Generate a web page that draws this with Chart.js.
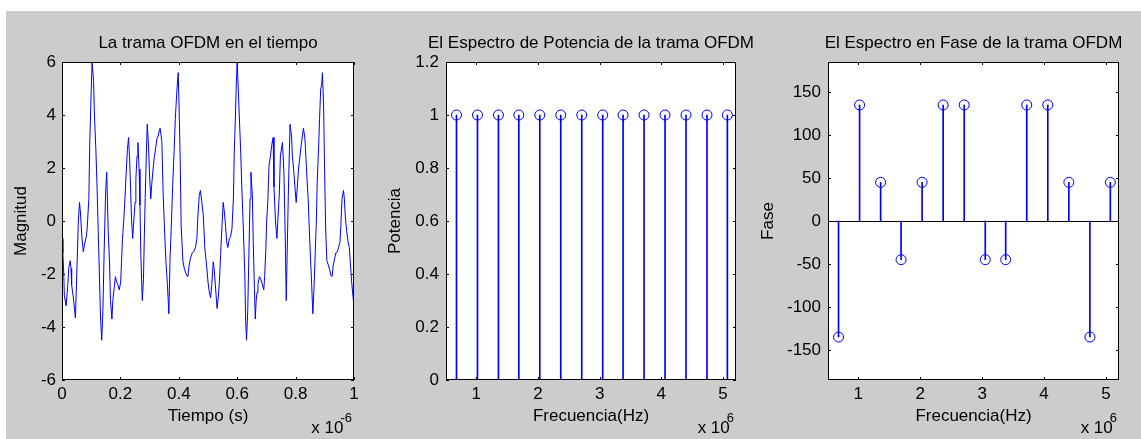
<!DOCTYPE html>
<html>
<head>
<meta charset="utf-8">
<script src="https://cdn.jsdelivr.net/npm/chart.js@4.4.1/dist/chart.umd.min.js"></script>
<style>
html,body{margin:0;padding:0;background:#ffffff;}
body{width:1141px;height:439px;position:relative;overflow:hidden;}
#fig{position:absolute;left:6px;top:11px;width:1135px;height:428px;background:#cccccc;}
canvas{position:absolute;top:11px;}
</style>
</head>
<body>
<div id="fig"></div>
<canvas id="c1" width="370" height="428" style="left:6px"></canvas>
<canvas id="c2" width="384" height="428" style="left:376px"></canvas>
<canvas id="c3" width="381" height="428" style="left:760px"></canvas>
<script>
// ---- Data ----
// Time axis in units of 1e-6 s
const tiempoUs = [
0.000,0.003,0.006,0.008,0.014,0.020,0.023,0.028,0.031,0.033,0.039,0.043,0.046,0.048,0.052,0.056,0.060,0.063,0.068,0.073,
0.077,0.083,0.086,0.092,0.095,0.100,0.103,0.108,0.111,0.116,0.120,0.124,0.128,0.132,0.136,0.140,0.144,0.149,0.153,0.155,
0.158,0.163,0.166,0.171,0.174,0.179,0.183,0.187,0.191,0.196,0.201,0.204,0.207,0.212,0.216,0.220,0.224,0.228,0.232,0.235,
0.238,0.242,0.245,0.250,0.253,0.257,0.260,0.264,0.267,0.270,0.275,0.279,0.282,0.285,0.289,0.292,0.296,0.300,0.304,0.307,
0.312,0.316,0.321,0.325,0.329,0.333,0.336,0.342,0.346,0.351,0.356,0.361,0.366,0.370,0.375,0.379,0.384,0.388,0.393,0.398,
0.401,0.405,0.408,0.414,0.419,0.425,0.431,0.435,0.440,0.446,0.451,0.457,0.462,0.465,0.470,0.474,0.479,0.484,0.489,0.495,
0.500,0.504,0.509,0.513,0.518,0.521,0.526,0.531,0.535,0.539,0.543,0.548,0.552,0.556,0.560,0.564,0.568,0.573,0.577,0.582,
0.587,0.590,0.594,0.597,0.600,0.604,0.607,0.612,0.616,0.621,0.626,0.629,0.632,0.636,0.640,0.644,0.647,0.652,0.655,0.659,
0.662,0.665,0.668,0.671,0.676,0.681,0.685,0.691,0.694,0.698,0.701,0.705,0.709,0.714,0.718,0.723,0.726,0.731,0.736,0.739,
0.744,0.748,0.755,0.760,0.764,0.768,0.771,0.775,0.778,0.781,0.786,0.789,0.794,0.799,0.802,0.807,0.810,0.815,0.819,0.824,
0.827,0.832,0.835,0.839,0.843,0.847,0.851,0.855,0.859,0.863,0.867,0.871,0.874,0.879,0.882,0.886,0.889,0.892,0.896,0.899,
0.903,0.907,0.912,0.917,0.921,0.925,0.929,0.934,0.938,0.943,0.947,0.952,0.955,0.959,0.964,0.967,0.970,0.975,0.980,0.984,
0.988,0.992,0.997,1.000
];
const magnitud = [
-0.65,-1.2,-2.0,-2.8,-3.2,-2.4,-1.8,-1.5,-1.8,-2.4,-2.9,-3.35,-3.66,-2.9,-1.5,0.0,0.7,0.34,-0.6,-1.16,
-0.9,-0.6,-0.3,0.84,2.9,4.9,6.0,5.3,4.0,2.7,1.3,-0.35,-2.0,-3.66,-4.5,-3.4,-1.3,0.96,1.84,1.1,
-0.3,-1.66,-3.0,-3.7,-3.0,-2.5,-2.1,-2.3,-2.4,-2.6,-2.3,-1.5,-0.7,0.1,0.96,1.84,2.7,3.15,2.2,1.2,
0.1,-0.66,-0.16,0.7,1.6,2.46,2.96,1.96,0.6,-1.3,-3.0,-2.2,-0.54,0.9,2.6,3.65,2.9,1.7,0.84,1.34,
1.96,2.4,2.77,3.1,3.2,3.4,3.5,3.0,1.2,-0.3,-1.54,-2.4,-3.5,-1.4,0.0,1.34,2.65,3.84,4.84,5.6,
4.3,2.2,-0.16,-1.5,-1.8,-2.0,-2.1,-1.7,-1.4,-1.2,-1.16,-1.0,-0.66,0.1,0.96,1.15,0.7,0.2,-1.0,-1.66,
-2.3,-2.66,-2.9,-2.4,-1.54,-1.8,-2.54,-3.3,-2.9,-2.3,-1.3,-0.16,0.7,0.34,-0.16,-0.8,-1.0,-0.66,-0.6,-0.3,
0.84,2.6,4.0,5.2,6.0,4.9,4.0,2.6,1.2,-0.3,-2.0,-3.8,-4.5,-3.4,-1.3,0.84,1.84,0.96,-0.8,-2.54,
-3.7,-3.0,-2.7,-2.4,-2.1,-2.2,-2.35,-2.6,-2.1,-1.1,0.0,0.78,2.1,2.46,2.84,3.15,1.28,0.0,-0.66,0.0,
0.96,2.46,2.96,1.84,-0.3,-3.0,-1.3,0.96,2.34,3.65,3.2,2.46,1.84,1.1,0.7,1.46,1.96,2.46,2.84,3.28,
3.5,3.1,2.46,1.6,0.84,-0.3,-1.4,-2.4,-3.5,-2.54,-1.3,0.0,1.46,2.84,3.84,5.0,5.1,5.6,4.3,2.1,
-0.3,-1.5,-1.66,-1.85,-2.05,-2.1,-1.66,-1.4,-1.2,-1.16,-1.0,-0.8,-0.16,0.84,1.15,0.84,0.2,-0.4,-0.8,-1.0,
-1.66,-2.3,-2.9,-3.2
];
// Frequency axis in units of 1e6 Hz
const frecuenciaMHz = [0.68,1.02,1.36,1.69,2.03,2.37,2.71,3.05,3.38,3.72,4.06,4.40,4.74,5.07];
const potencia = [1,1,1,1,1,1,1,1,1,1,1,1,1,1];
const fase = [-135,135,45,-45,45,135,135,-45,-45,135,135,45,-135,45];

const ticksTiempo = [0,0.2,0.4,0.6,0.8,1];
const ticksMagnitud = [-6,-4,-2,0,2,4,6];
const ticksFrecuencia = [1,2,3,4,5];
const ticksPotencia = [0,0.2,0.4,0.6,0.8,1,1.2];
const ticksFase = [-150,-100,-50,0,50,100,150];

// ---- Styling ----
const FONT = "'Liberation Sans', Arial, Helvetica, sans-serif";
Chart.defaults.font.family = FONT;
Chart.defaults.font.size = 17;
Chart.defaults.color = '#000000';
Chart.defaults.animation = false;
const BLUE = '#0000ff';

const matlabAxes = {
  id: 'matlabAxes',
  beforeDraw(chart) {
    const {ctx, chartArea: a} = chart;
    ctx.save();
    ctx.fillStyle = '#ffffff';
    ctx.fillRect(a.left, a.top, a.right - a.left, a.bottom - a.top);
    ctx.restore();
  },
  beforeDatasetsDraw(chart, args, opts) {
    if (!opts.baseline) return;
    const {ctx, chartArea: a, scales} = chart;
    const y = Math.round(scales.y.getPixelForValue(0)) + 0.5;
    ctx.save();
    ctx.strokeStyle = '#000000'; ctx.lineWidth = 1;
    ctx.beginPath(); ctx.moveTo(a.left, y); ctx.lineTo(a.right, y); ctx.stroke();
    ctx.restore();
  },
  afterDatasetsDraw(chart) {
    const {ctx, chartArea: a, scales} = chart;
    const L = 3;
    ctx.save();
    ctx.strokeStyle = '#000000'; ctx.lineWidth = 1;
    ctx.beginPath();
    scales.x.ticks.forEach(t => {
      const x = Math.round(scales.x.getPixelForValue(t.value)) + 0.5;
      ctx.moveTo(x, a.bottom); ctx.lineTo(x, a.bottom - L);
      ctx.moveTo(x, a.top); ctx.lineTo(x, a.top + L);
    });
    scales.y.ticks.forEach(t => {
      const y = Math.round(scales.y.getPixelForValue(t.value)) + 0.5;
      ctx.moveTo(a.left, y); ctx.lineTo(a.left + L, y);
      ctx.moveTo(a.right, y); ctx.lineTo(a.right - L, y);
    });
    ctx.stroke();
    ctx.strokeRect(a.left + 0.5, a.top + 0.5, a.right - a.left - 1, a.bottom - a.top - 1);
    ctx.restore();
  },
  afterDraw(chart, args, opts) {
    const {ctx, chartArea: a} = chart;
    ctx.save();
    ctx.fillStyle = '#000000';
    ctx.textBaseline = 'alphabetic';
    if (opts.title) {
      ctx.textAlign = 'center';
      ctx.font = '17px ' + FONT;
      ctx.fillText(opts.title, (a.left + a.right) / 2, a.top - 14);
    }
    if (opts.exponent) {
      ctx.textAlign = 'right';
      ctx.font = '13px ' + FONT;
      const ex = a.right - 2;
      ctx.fillText(opts.exponent, ex, a.bottom + 42);
      const w = ctx.measureText(opts.exponent).width;
      ctx.font = '17px ' + FONT;
      ctx.fillText('x 10', ex - w + 3, a.bottom + 53);
    }
    ctx.restore();
  }
};
Chart.register(matlabAxes);

function makeOptions(c) {
  return {
    responsive: false,
    animation: false,
    layout: {padding: {left: 0, right: c.right, top: 51, bottom: 0}},
    plugins: {
      legend: {display: false},
      tooltip: {enabled: false},
      title: {display: false},
      matlabAxes: {title: c.title, exponent: c.exponent, baseline: c.baseline}
    },
    scales: {
      x: {
        type: 'linear', min: c.xMin, max: c.xMax, offset: false,
        grid: {display: false, drawTicks: false}, border: {display: false},
        afterBuildTicks: s => { s.ticks = c.xTicks.map(v => ({value: v})); },
        afterFit: s => { s.height = 59; },
        ticks: {padding: 4, maxRotation: 0, autoSkip: false, color: '#000000', font: {size: 17}, callback: v => String(v)},
        title: {display: true, text: c.xTitle, color: '#000000', font: {size: 17, lineHeight: 1}, padding: {top: 0, bottom: 14}}
      },
      y: {
        type: 'linear', min: c.yMin, max: c.yMax,
        grid: {display: false, drawTicks: false}, border: {display: false},
        afterBuildTicks: s => { s.ticks = c.yTicks.map(v => ({value: v})); },
        afterFit: s => { s.width = c.left; },
        ticks: {padding: c.yTickPad, autoSkip: false, color: '#000000', font: {size: 17}, callback: v => String(v)},
        title: {display: true, text: c.yTitle, color: '#000000', font: {size: 17, lineHeight: 1}, padding: {top: c.yTitlePad, bottom: 0}}
      }
    }
  };
}

// Plot 1: time-domain frame
new Chart(document.getElementById('c1'), {
  type: 'scatter',
  data: {datasets: [{
    type: 'line',
    data: tiempoUs.map((t, i) => ({x: t, y: magnitud[i]})),
    borderColor: BLUE, borderWidth: 1, pointRadius: 0, tension: 0, fill: false
  }]},
  options: makeOptions({
    left: 56, right: 22, title: 'La trama OFDM en el tiempo',
    xMin: 0, xMax: 1, xTicks: ticksTiempo, xTitle: 'Tiempo (s)',
    yMin: -6, yMax: 6, yTicks: ticksMagnitud, yTitle: 'Magnitud', yTitlePad: 7, yTickPad: 6,
    exponent: '-6', baseline: false
  })
});

function stemDatasets(values) {
  const pts = frecuenciaMHz.map((f, i) => ({x: f, y: values[i]}));
  return [
    {type: 'bar', data: pts, backgroundColor: BLUE, borderWidth: 0, barThickness: 1},
    {type: 'scatter', data: pts, pointStyle: 'circle', pointRadius: 5, borderColor: BLUE,
     backgroundColor: 'rgba(0,0,0,0)', borderWidth: 1}
  ];
}

// Plot 2: power spectrum
new Chart(document.getElementById('c2'), {
  type: 'scatter',
  data: {datasets: stemDatasets(potencia)},
  options: makeOptions({
    left: 70, right: 24, title: 'El Espectro de Potencia de la trama OFDM',
    xMin: 0.51, xMax: 5.21, xTicks: ticksFrecuencia, xTitle: 'Frecuencia(Hz)',
    yMin: 0, yMax: 1.2, yTicks: ticksPotencia, yTitle: 'Potencia', yTitlePad: 11, yTickPad: 7,
    exponent: '6', baseline: false
  })
});

// Plot 3: phase spectrum
new Chart(document.getElementById('c3'), {
  type: 'scatter',
  data: {datasets: stemDatasets(fase)},
  options: makeOptions({
    left: 68, right: 22, title: 'El Espectro en Fase de la trama OFDM',
    xMin: 0.51, xMax: 5.21, xTicks: ticksFrecuencia, xTitle: 'Frecuencia(Hz)',
    yMin: -185, yMax: 185, yTicks: ticksFase, yTitle: 'Fase', yTitlePad: 0, yTickPad: 7,
    exponent: '6', baseline: true
  })
});
</script>
</body>
</html>
